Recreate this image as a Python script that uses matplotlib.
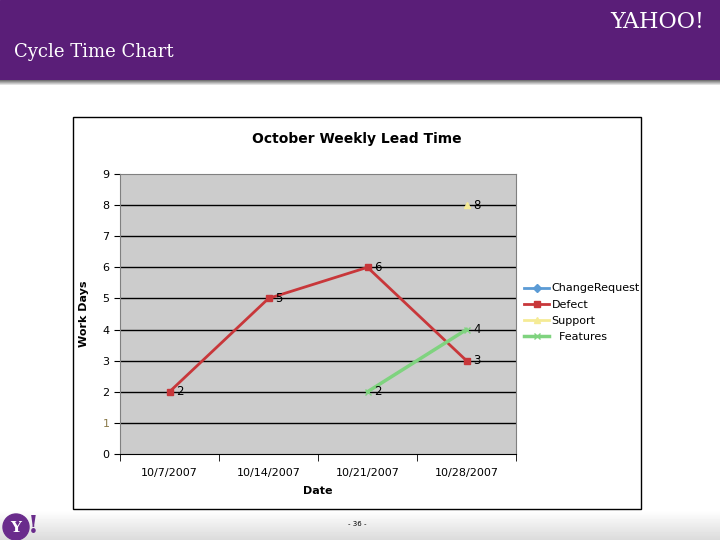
import numpy as np
import matplotlib
matplotlib.use('Agg')
import matplotlib.pyplot as plt
from matplotlib.patches import Rectangle, Circle

###data###
dates = ['10/7/2007', '10/14/2007', '10/21/2007', '10/28/2007']
change_request = [np.nan, np.nan, np.nan, np.nan]
defect = [2, 5, 6, 3]
support = [np.nan, np.nan, np.nan, 8]
features = [np.nan, np.nan, 2, 4]
y_ticks = [0, 1, 2, 3, 4, 5, 6, 7, 8, 9]

W, H = 720, 540
def fx(px):
	return px / W
def fy(py):
	return 1 - py / H

fig = plt.figure(figsize=(7.2, 5.4), dpi=100)
fig.patch.set_facecolor('white')

###slide background###
bg = fig.add_axes([0, 0, 1, 1])
bg.set_xlim(0, W)
bg.set_ylim(H, 0)
bg.axis('off')
# header band + shadow
bg.add_patch(Rectangle((0, 0), W, 80, color='#5a1e78', zorder=1))
shade = np.linspace(0.45, 1.0, 6)[:, None] * np.ones((6, 10))
bg.imshow(shade, cmap='gray', vmin=0, vmax=1, extent=(0, W, 86, 80), aspect='auto', zorder=1)
# footer gradient
foot = np.linspace(1.0, 0.86, 30)[:, None] * np.ones((30, 10))
bg.imshow(foot, cmap='gray', vmin=0, vmax=1, extent=(0, W, 540, 510), aspect='auto', zorder=1)
bg.text(14, 52, 'Cycle Time Chart', color='white', fontsize=13, family='DejaVu Serif',
	va='center', ha='left', zorder=3)
bg.text(704, 22, 'YAHOO!', color='white', fontsize=16, family='DejaVu Serif',
	va='center', ha='right', zorder=3)
bg.text(357, 524, '- 36 -', color='black', fontsize=5, va='center', ha='center', zorder=3)
# small logo bottom left
bg.add_patch(Circle((16, 527), 13, color='#6a2c8c', zorder=3))
bg.text(16, 528, 'Y', color='white', fontsize=11, family='DejaVu Serif', fontweight='bold',
	ha='center', va='center', zorder=4)
bg.text(33, 526, '!', color='#6a2c8c', fontsize=18, fontweight='bold', family='DejaVu Serif',
	ha='center', va='center', zorder=4)
# chart frame
bg.add_patch(Rectangle((73, 117), 568, 392, facecolor='white', edgecolor='black', lw=1, zorder=2))
bg.text(357, 139, 'October Weekly Lead Time', fontsize=10, fontweight='bold', ha='center',
	va='center', zorder=3)

###chart###
ax = fig.add_axes([fx(120), fy(454), fx(516) - fx(120), fy(174) - fy(454)])
ax.set_facecolor('#cccccc')
x = np.arange(len(dates))
for y in y_ticks[1:-1]:
	ax.axhline(y, color='black', lw=1, zorder=1)

ax.plot(x, change_request, color='#5b9bd5', marker='D', ms=4, lw=2, label='ChangeRequest', zorder=3)
ax.plot(x, defect, color='#c8373a', marker='s', ms=5, lw=2, label='Defect', zorder=3)
ax.plot(x, support, color='#f5eb96', marker='^', ms=5, lw=2, label='Support', zorder=3)
ax.plot(x, features, color='#7fd37f', marker='x', ms=4, lw=2.5, label='  Features', zorder=3)

for series in (defect, support, features):
	for xi, v in zip(x, series):
		if not np.isnan(v):
			ax.annotate('%d' % v, (xi, v), xytext=(5, 0), textcoords='offset points',
				fontsize=8.5, va='center', ha='left', zorder=4)

ax.set_xlim(-0.5, len(dates) - 0.5)
ax.set_ylim(0, 9)
ax.set_yticks(y_ticks)
ax.set_xticks(x)
ax.set_xticklabels(dates, fontsize=8)
ax.set_xticks(np.arange(len(dates) + 1) - 0.5, minor=True)
ax.tick_params(axis='x', which='major', length=0, pad=10)
ax.tick_params(axis='x', which='minor', length=5, direction='out')
ax.tick_params(axis='y', labelsize=8, length=4)
ax.get_yticklabels()[1].set_color('#8a7a4a')
for side in ('top', 'right'):
	ax.spines[side].set_color('#808080')
ax.spines['left'].set_color('#808080')
ax.spines['bottom'].set_color('black')
ax.set_xlabel('Date', fontsize=8, fontweight='bold', labelpad=6)
ax.set_ylabel('Work Days', fontsize=8, fontweight='bold', labelpad=10)

leg = ax.legend(loc='center left', bbox_to_anchor=(1.0, 0.505), frameon=False, fontsize=8,
	handlelength=2.3, labelspacing=0.55, handletextpad=0.2, borderaxespad=0.3)

fig.savefig('out.png', dpi=100)
